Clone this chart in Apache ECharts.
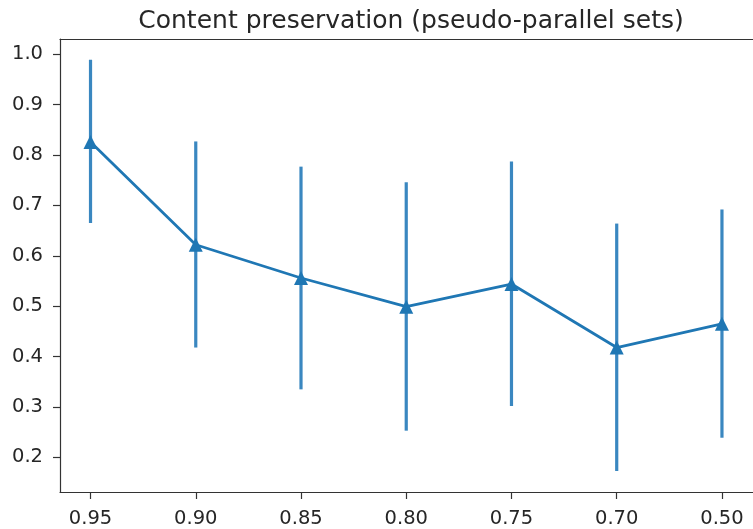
<!DOCTYPE html>
<html>
<head>
<meta charset="utf-8">
<script src="https://cdn.jsdelivr.net/npm/echarts@6/dist/echarts.min.js"></script>
<style>html,body{margin:0;padding:0;background:#fff;}#c{width:753px;height:529px;}</style>
</head>
<body>
<div id="c"></div>
<script>
var titleText = 'Content preservation (pseudo-parallel sets)';
var categories = ['0.95', '0.90', '0.85', '0.80', '0.75', '0.70', '0.50'];
var means = [0.826, 0.622, 0.556, 0.499, 0.544, 0.418, 0.465];
var lower = [0.665, 0.418, 0.335, 0.253, 0.302, 0.173, 0.239];
var upper = [0.989, 0.827, 0.777, 0.746, 0.787, 0.664, 0.692];
var yTicks = [0.2, 0.3, 0.4, 0.5, 0.6, 0.7, 0.8, 0.9, 1.0];

var xIdx = categories.map(function (c, i) { return i; });
var lineData = means.map(function (m, i) { return [i, m]; });
var errData = lower.map(function (l, i) { return [i, l, upper[i]]; });

var chart = echarts.init(document.getElementById('c'), null, {renderer: 'canvas'});
var FONT = 'DejaVu Sans';
var SPINE = {color: '#333', width: 1.2};
chart.setOption({
  animation: false,
  backgroundColor: '#ffffff',
  title: {
    text: titleText,
    left: 406,
    textAlign: 'center',
    top: 4,
    textStyle: {fontFamily: FONT, fontSize: 25, fontWeight: 'normal', color: '#262626'}
  },
  grid: {left: 60, right: -5, top: 39, bottom: 36},
  xAxis: [{
    type: 'value', min: -0.29, max: 6.295, position: 'bottom',
    axisLine: {show: true, onZero: false, lineStyle: SPINE},
    splitLine: {show: false},
    axisTick: {show: true, customValues: xIdx, length: 7, lineStyle: SPINE},
    axisLabel: {
      customValues: xIdx, margin: 17, color: '#262626', fontFamily: FONT, fontSize: 19.5,
      formatter: function (v) { return categories[Math.round(v)]; }
    }
  }, {
    type: 'value', min: -0.29, max: 6.295, position: 'top',
    axisLine: {show: true, onZero: false, lineStyle: SPINE},
    splitLine: {show: false}, axisTick: {show: false}, axisLabel: {show: false}
  }],
  yAxis: {
    type: 'value', min: 0.1313, max: 1.0303, position: 'left',
    axisLine: {show: true, onZero: false, lineStyle: SPINE},
    splitLine: {show: false},
    axisTick: {show: true, customValues: yTicks, length: 7, lineStyle: SPINE},
    axisLabel: {
      customValues: yTicks, margin: 17, color: '#262626', fontFamily: FONT, fontSize: 19.5,
      formatter: function (v) { return v.toFixed(1); }
    }
  },
  series: [
    {
      type: 'custom',
      data: errData,
      z: 2,
      renderItem: function (params, api) {
        var p1 = api.coord([api.value(0), api.value(1)]);
        var p2 = api.coord([api.value(0), api.value(2)]);
        return {
          type: 'line',
          shape: {x1: p1[0], y1: p1[1], x2: p2[0], y2: p2[1]},
          style: {stroke: '#3a87c0', lineWidth: 3.2}
        };
      }
    },
    {
      type: 'line',
      data: lineData,
      z: 3,
      symbol: 'triangle',
      symbolSize: 14,
      showSymbol: true,
      lineStyle: {color: '#1f77b4', width: 2.8},
      itemStyle: {color: '#1f77b4', borderWidth: 0}
    }
  ]
});
</script>
</body>
</html>
